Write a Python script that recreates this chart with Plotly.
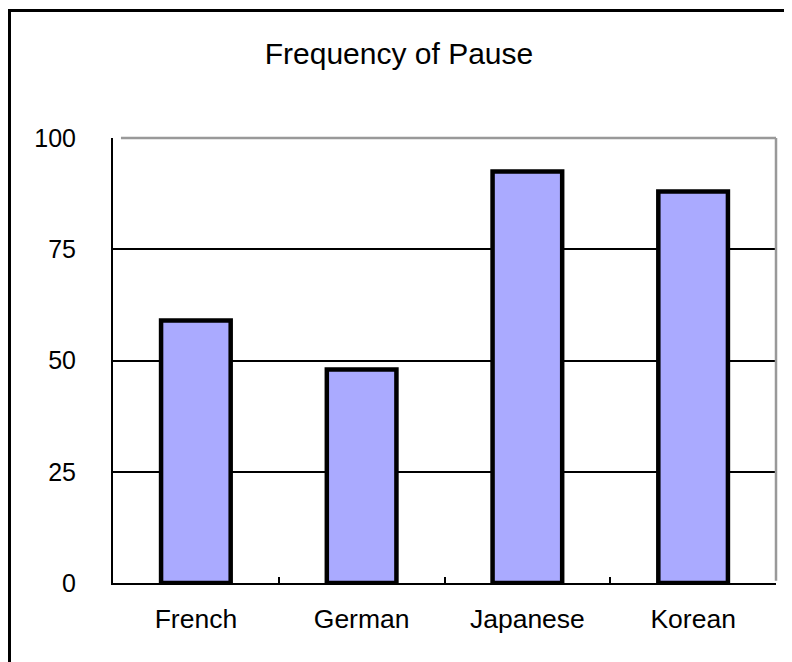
import plotly.graph_objects as go

categories = ["French", "German", "Japanese", "Korean"]
values = [59, 48, 92.5, 88]
y_ticks = [0, 25, 50, 75, 100]
title_text = "Frequency of Pause"

W, H = 792, 662
L, R, T, B = 105, 24, 130, 87
pw, ph = W - L - R, H - T - B

FONT = "Liberation Sans, Arial, sans-serif"

fig = go.Figure()
fig.add_trace(go.Bar(
    x=categories, y=values, width=0.42,
    marker=dict(color="#AAAAFF", line=dict(color="black", width=4.5)),
))

def px_x(p):
    return (p - L) / pw

def px_y(p):
    return (H - B - p) / ph

fig.update_layout(
    width=W, height=H,
    margin=dict(l=L, r=R, t=T, b=B),
    paper_bgcolor="white", plot_bgcolor="white",
    showlegend=False,
    font=dict(family=FONT, color="black", size=25),
    title=dict(text=title_text, x=391 / W, xanchor="center", y=1 - 45 / H, yanchor="middle",
               font=dict(family=FONT, size=30, color="black")),
    xaxis=dict(
        showline=True, linecolor="black", linewidth=2,
        ticks="inside", tickson="boundaries", ticklen=6, tickcolor="black", tickwidth=2,
        showgrid=False, tickfont=dict(size=26.5), ticklabelstandoff=11,
    ),
    yaxis=dict(
        range=[0, 100], tickvals=y_ticks, ticktext=[str(v) for v in y_ticks],
        showline=True, linecolor="black", linewidth=2,
        ticks="inside", ticklen=7, tickcolor="black", tickwidth=2,
        showgrid=True, gridcolor="black", gridwidth=1.5,
        zeroline=False, tickfont=dict(size=25), ticklabelstandoff=30,
    ),
    shapes=[
        dict(type="line", xref="paper", yref="paper", x0=0.012, x1=1, y0=1, y1=1,
             line=dict(color="#999999", width=2.5), layer="above"),
        dict(type="line", xref="paper", yref="paper", x0=1, x1=1, y0=0.005, y1=1,
             line=dict(color="#999999", width=2.5), layer="above"),
        dict(type="rect", xref="paper", yref="paper",
             x0=px_x(1.5), x1=px_x(W - 1.5), y0=px_y(H - 1.5), y1=px_y(2.5),
             line=dict(color="black", width=3), layer="above"),
    ],
)

fig.write_html("out.html")
